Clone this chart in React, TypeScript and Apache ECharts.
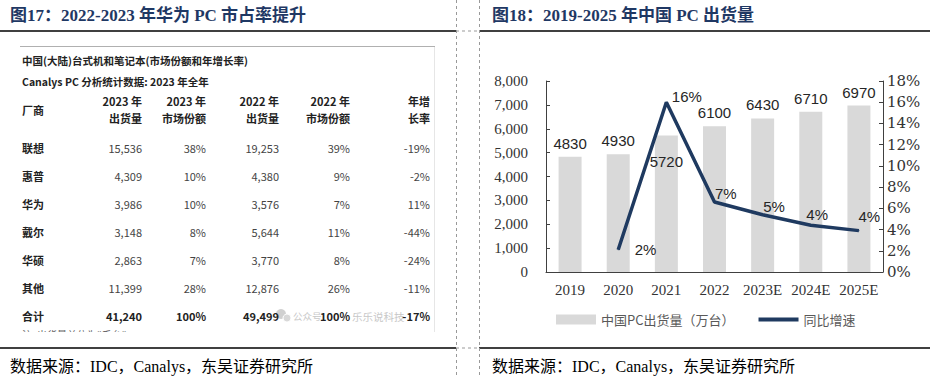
import React, { useEffect, useRef } from 'react';
import * as echarts from 'echarts';

// ---------- Right chart data ----------
const years = ['2019', '2020', '2021', '2022', '2023E', '2024E', '2025E'];
const shipments = [4830, 4930, 5720, 6100, 6430, 6710, 6970];
const growth: (number | null)[] = [null, 2.1, 16.0, 6.6, 5.4, 4.4, 3.9];
const barName = '中国PC出货量（万台）';
const lineName = '同比增速';

// ---------- Left table data ----------
const tableTitle1 = '中国(大陆)台式机和笔记本(市场份额和年增长率)';
const tableTitle2 = 'Canalys PC 分析统计数据: 2023 年全年';
const headerTop = ['2023 年', '2023 年', '2022 年', '2022 年', '年增'];
const headerBottom = ['出货量', '市场份额', '出货量', '市场份额', '长率'];
const vendors = ['联想', '惠普', '华为', '戴尔', '华硕', '其他', '合计'];
const ship2023 = [15536, 4309, 3986, 3148, 2863, 11399, 41240];
const share2023 = [38, 10, 10, 8, 7, 28, 100];
const ship2022 = [19253, 4380, 3576, 5644, 3770, 12876, 49499];
const share2022 = [39, 9, 7, 11, 8, 26, 100];
const yoy = [-19, -2, 11, -44, -24, -11, -17];

// ---------- Style constants ----------
const NAVY = '#1F3A60';
const SERIF = '"Liberation Serif", "Times New Roman", "Noto Sans CJK SC", serif';
const CJK = '"Noto Sans CJK SC", sans-serif';
const colRight = [142, 206, 279, 350, 430];
const rowY0 = 148;
const rowStep = 28;
const lineLabelOffsets: (number[] | null)[] = [null, [11, 0], [0, -6], [-5, -8], [-5, -8], [-10, -11], [-6, -14]];

const fmt = (n: number) => n.toLocaleString('en-US');

function txt(x: number, y: number, text: string, o: any = {}) {
  return {
    type: 'text',
    x,
    y,
    z: o.z ?? 10,
    style: {
      text,
      fill: o.color ?? '#333',
      fontSize: o.size ?? 11,
      fontWeight: o.weight ?? 'normal',
      fontFamily: o.family ?? CJK,
      textAlign: o.align ?? 'left',
      textVerticalAlign: 'middle',
      align: o.align ?? 'left',
      verticalAlign: 'middle',
    },
  };
}
function ln(x1: number, y1: number, x2: number, y2: number, stroke: string, w = 1, dash?: number[]) {
  return {
    type: 'line',
    z: 5,
    shape: { x1, y1, x2, y2 },
    style: { stroke, lineWidth: w, lineDash: dash },
  };
}

export default function App() {
  const ref = useRef<HTMLDivElement>(null);
  useEffect(() => {
    if (!ref.current) return;
    const chart = echarts.init(ref.current, undefined, { renderer: 'svg' });

    const graphics: any[] = [];
    // frame lines
    graphics.push(ln(0, 31, 456, 31, '#000', 1.5));
    graphics.push(ln(479, 31, 930, 31, '#000', 1.5));
    graphics.push(ln(0, 348, 456, 348, '#000', 1.5));
    graphics.push(ln(479, 348, 930, 348, '#000', 1.5));
    graphics.push(ln(456, 31, 479, 31, '#999', 1, [3, 3]));
    graphics.push(ln(456, 348, 479, 348, '#999', 1, [3, 3]));
    graphics.push(ln(456.5, 0, 456.5, 377, '#999', 1, [3, 3]));
    graphics.push(ln(479.5, 0, 479.5, 377, '#999', 1, [3, 3]));
    // titles
    graphics.push(txt(10, 15, '图17：2022-2023 年华为 PC 市占率提升', { size: 17, weight: 'bold', color: '#1F3864', family: SERIF }));
    graphics.push(txt(492, 15, '图18：2019-2025 年中国 PC 出货量', { size: 17, weight: 'bold', color: '#1F3864', family: SERIF }));
    // sources
    graphics.push(txt(10, 366, '数据来源：IDC，Canalys，东吴证券研究所', { size: 16, color: '#000', family: SERIF }));
    graphics.push(txt(492, 366, '数据来源：IDC，Canalys，东吴证券研究所', { size: 16, color: '#000', family: SERIF }));

    // table image borders
    graphics.push(ln(20, 46.5, 435, 46.5, '#b0b0b0', 1));
    graphics.push(ln(434.5, 47, 434.5, 332, '#e6e6e6', 1));
    graphics.push(txt(22, 60, tableTitle1, { weight: 'bold', color: '#222', size: 10.5 }));
    graphics.push(txt(22, 81, tableTitle2, { weight: 'bold', color: '#222', size: 10.5 }));
    graphics.push(txt(22, 110, '厂商', { weight: 'bold', color: '#222' }));
    headerTop.forEach((h, i) => {
      graphics.push(txt(colRight[i], 101, h, { weight: 'bold', color: '#222', align: 'right' }));
      graphics.push(txt(colRight[i], 118, headerBottom[i], { weight: 'bold', color: '#222', align: 'right' }));
    });
    // watermark
    graphics.push({ type: 'circle', z: 8, shape: { cx: 281, cy: 314, r: 5 }, style: { fill: '#d0d0d0' } });
    graphics.push({ type: 'circle', z: 8, shape: { cx: 287, cy: 318, r: 4 }, style: { fill: '#d8d8d8', stroke: '#fff', lineWidth: 1 } });
    graphics.push(txt(293, 316, '公众号', { color: '#c8c8c8', size: 9.5, z: 8 }));
    graphics.push(txt(352, 316, '乐乐说科技', { color: '#c8c8c8', size: 10.5, z: 8 }));
    vendors.forEach((v, r) => {
      const y = rowY0 + r * rowStep;
      const total = r === vendors.length - 1;
      const w = total ? 'bold' : 'normal';
      const c = total ? '#222' : '#444';
      graphics.push(txt(22, y, v, { weight: 'bold', color: '#222' }));
      graphics.push(txt(colRight[0], y, fmt(ship2023[r]), { weight: w, color: c, align: 'right' }));
      graphics.push(txt(colRight[1], y, share2023[r] + '%', { weight: w, color: c, align: 'right' }));
      graphics.push(txt(colRight[2], y, fmt(ship2022[r]), { weight: w, color: c, align: 'right' }));
      graphics.push(txt(colRight[3], y, share2022[r] + '%', { weight: w, color: c, align: 'right' }));
      graphics.push(txt(colRight[4], y, yoy[r] + '%', { weight: w, color: c, align: 'right' }));
    });
    // cut-off footnote (only its top edge shows)
    graphics.push(txt(22, 334, '注: 出货量单位为"千台"', { color: '#666', size: 10, z: 6 }));
    graphics.push({ type: 'rect', z: 20, shape: { x: 0, y: 332, width: 455, height: 15 }, style: { fill: '#fff' } });

    const barData = shipments.map((v, i) =>
      i === 2
        ? { value: v, label: { position: 'insideTop', distance: 19 } }
        : { value: v }
    );
    const lineData = growth.map((v, i) => ({
      value: v,
      label: lineLabelOffsets[i] ? { position: 'right', offset: lineLabelOffsets[i] } : { show: false },
    }));

    chart.setOption({
      animation: false,
      backgroundColor: '#fff',
      grid: { left: 546, right: 47, top: 81, bottom: 105, containLabel: false },
      legend: {
        left: 551,
        top: 308,
        itemWidth: 40,
        itemHeight: 10,
        itemGap: 24,
        textStyle: { fontFamily: CJK, fontSize: 13, color: '#595959' },
        data: [
          { name: barName, icon: 'rect' },
          { name: lineName, icon: 'path://M0 0 H40 V4 H0 Z' },
        ],
      },
      xAxis: {
        type: 'category',
        data: years,
        boundaryGap: true,
        axisLine: { lineStyle: { color: '#404040', width: 1 } },
        axisTick: { inside: true, length: 4, lineStyle: { color: '#404040' } },
        axisLabel: { interval: 0, fontFamily: SERIF, fontSize: 15, color: '#333', margin: 10 },
      },
      yAxis: [
        {
          type: 'value',
          min: 0,
          max: 8000,
          interval: 1000,
          splitLine: { show: false },
          axisLine: { show: true, lineStyle: { color: '#404040' } },
          axisTick: { show: true, inside: true, length: 4, lineStyle: { color: '#404040' } },
          axisLabel: { fontFamily: SERIF, fontSize: 15, color: '#333', margin: 18, formatter: (v: number) => fmt(v) },
        },
        {
          type: 'value',
          min: 0,
          max: 18,
          interval: 2,
          splitLine: { show: false },
          axisLine: { show: true, lineStyle: { color: '#404040' } },
          axisTick: { show: true, inside: true, length: 4, lineStyle: { color: '#404040' } },
          axisLabel: { fontFamily: '"DejaVu Serif", serif', fontSize: 15, color: '#333', margin: 4, formatter: '{value}%' },
        },
      ],
      graphic: graphics,
      series: [
        {
          name: barName,
          type: 'bar',
          data: barData,
          barWidth: 23,
          itemStyle: { color: '#D9D9D9' },
          label: {
            show: true,
            position: 'top',
            distance: 6,
            fontFamily: '"Liberation Sans", Arial, sans-serif',
            fontSize: 15,
            color: '#262626',
          },
        },
        {
          name: lineName,
          type: 'line',
          yAxisIndex: 1,
          data: lineData,
          symbol: 'circle',
          symbolSize: 1,
          showSymbol: true,
          itemStyle: { color: NAVY },
          lineStyle: { color: NAVY, width: 3.5 },
          label: {
            show: true,
            position: 'right',
            fontFamily: '"Liberation Sans", Arial, sans-serif',
            fontSize: 15,
            color: '#262626',
            formatter: (p: any) => Math.round(p.value) + '%',
          },
        },
      ],
    });
    return () => chart.dispose();
  }, []);
  return <div ref={ref} style={{ position: 'absolute', left: 0, top: 0, width: 930, height: 377 }} />;
}
